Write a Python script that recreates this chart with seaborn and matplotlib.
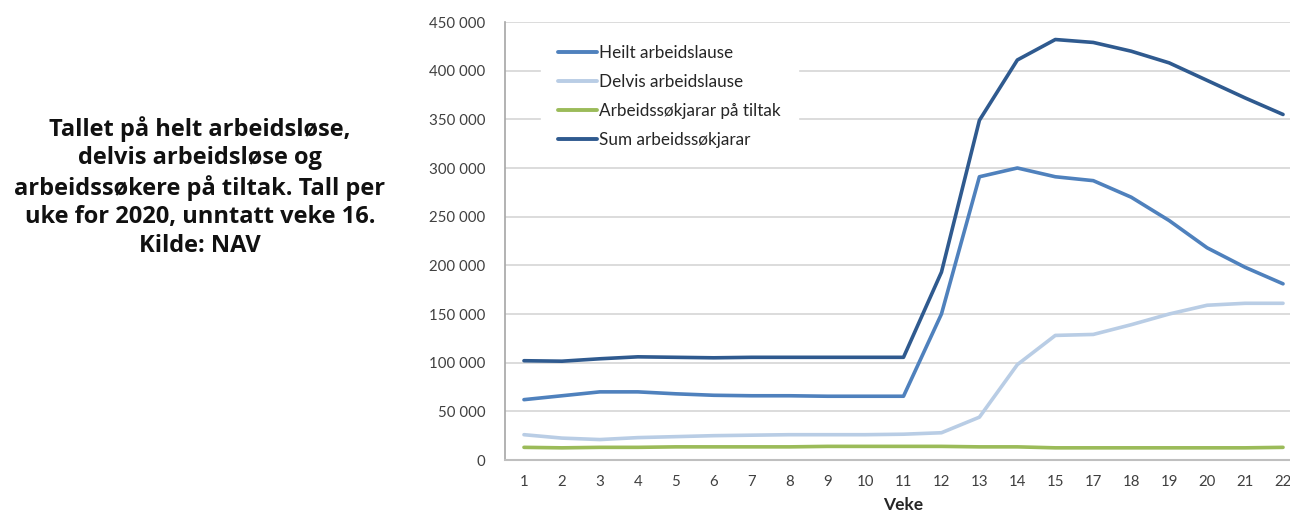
import matplotlib
matplotlib.use("Agg")
import matplotlib.pyplot as plt
import seaborn as sns
import pandas as pd
from matplotlib.ticker import FuncFormatter

weeks = ["1", "2", "3", "4", "5", "6", "7", "8", "9", "10", "11",
         "12", "13", "14", "15", "17", "18", "19", "20", "21", "22"]
heilt = [62000, 66000, 70000, 70000, 68000, 66500, 66000, 66000, 65500, 65500, 65500,
         150000, 291000, 300000, 291000, 287000, 270000, 246000, 218000, 198000, 181000]
delvis = [26000, 22500, 21000, 23000, 24000, 25000, 25500, 26000, 26000, 26000, 26500,
          28000, 44000, 98000, 128000, 129000, 139000, 150000, 159000, 161000, 161000]
tiltak = [13000, 12500, 13000, 13000, 13500, 13500, 13500, 13500, 14000, 14000, 14000,
          14000, 13500, 13500, 12500, 12500, 12500, 12500, 12500, 12500, 13000]
total = [102000, 101500, 104000, 106000, 105500, 105000, 105500, 105500, 105500, 105500, 105500,
         193000, 349000, 411000, 432000, 429000, 420000, 408000, 390000, 372000, 355000]

series_names = ["Heilt arbeidslause", "Delvis arbeidslause",
                "Arbeidssøkjarar på tiltak", "Sum arbeidssøkjarar"]
colors = ["#4F81BD", "#B9CDE5", "#9BBB59", "#2F5A8F"]

rows = []
for name, vals in zip(series_names, [heilt, delvis, tiltak, total]):
    for w, v in zip(weeks, vals):
        rows.append({"Veke": w, "Verdi": v, "Serie": name})
df = pd.DataFrame(rows)

sns.set_theme(style="white")
plt.rcParams['font.family'] = ['Lato', 'DejaVu Sans']

W, H = 1290, 513
fig = plt.figure(figsize=(W / 100, H / 100), dpi=100)
ax = fig.add_axes([505 / W, 1 - 460 / H, (1302 - 505) / W, (460 - 22) / H])

sns.lineplot(data=df, x="Veke", y="Verdi", hue="Serie", hue_order=series_names,
             palette=colors, sort=False, linewidth=2.6, ax=ax)

ax.set_xlim(-0.5, len(weeks) - 0.5)
ax.set_ylim(0, 450000)
ax.set_yticks(range(0, 450001, 50000))
ax.yaxis.set_major_formatter(FuncFormatter(lambda v, p: f"{int(v):,}".replace(",", " ")))
ax.grid(axis="y", color="#D9D9D9", linewidth=1.3)
ax.set_axisbelow(True)
for s in ["top", "right"]:
    ax.spines[s].set_visible(False)
ax.spines["left"].set_color("#A6A6A6")
ax.spines["bottom"].set_color("#BFBFBF")
ax.spines["left"].set_linewidth(1.2)
ax.spines["bottom"].set_linewidth(1.5)
ax.tick_params(axis="both", length=0, labelsize=10.8, colors="#404040")
ax.tick_params(axis="y", pad=14)
ax.tick_params(axis="x", pad=11)
ax.set_xlabel("")
ax.set_ylabel("")
fig.text(903 / W, 1 - 505 / H, "Veke", ha="center", va="center",
         fontsize=12.5, fontweight="bold", color="#262626")

leg = ax.legend(loc="upper left", bbox_to_anchor=(36 / 797, 1 - 6 / 438), frameon=True,
                fontsize=12.3, handlelength=2.3, handletextpad=0.1, labelspacing=0.75,
                borderpad=1.0, borderaxespad=0)
leg.get_frame().set_facecolor("white")
leg.get_frame().set_edgecolor("white")
leg.get_frame().set_alpha(1)
leg.get_frame().set_boxstyle("square", pad=0)
for line in leg.get_lines():
    line.set_linewidth(2.8)
for t in leg.get_texts():
    t.set_color("#262626")

fig.text(200 / W, 1 - 187 / H,
         "Tallet på helt arbeidsløse,\ndelvis arbeidsløse og\narbeidssøkere på tiltak. Tall per\nuke for 2020, unntatt veke 16.\nKilde: NAV",
         ha="center", va="center", fontsize=17, fontweight="bold",
         family=["Open Sans", "DejaVu Sans"], linespacing=1.24, color="#111111")

fig.savefig("out.png", dpi=100)
